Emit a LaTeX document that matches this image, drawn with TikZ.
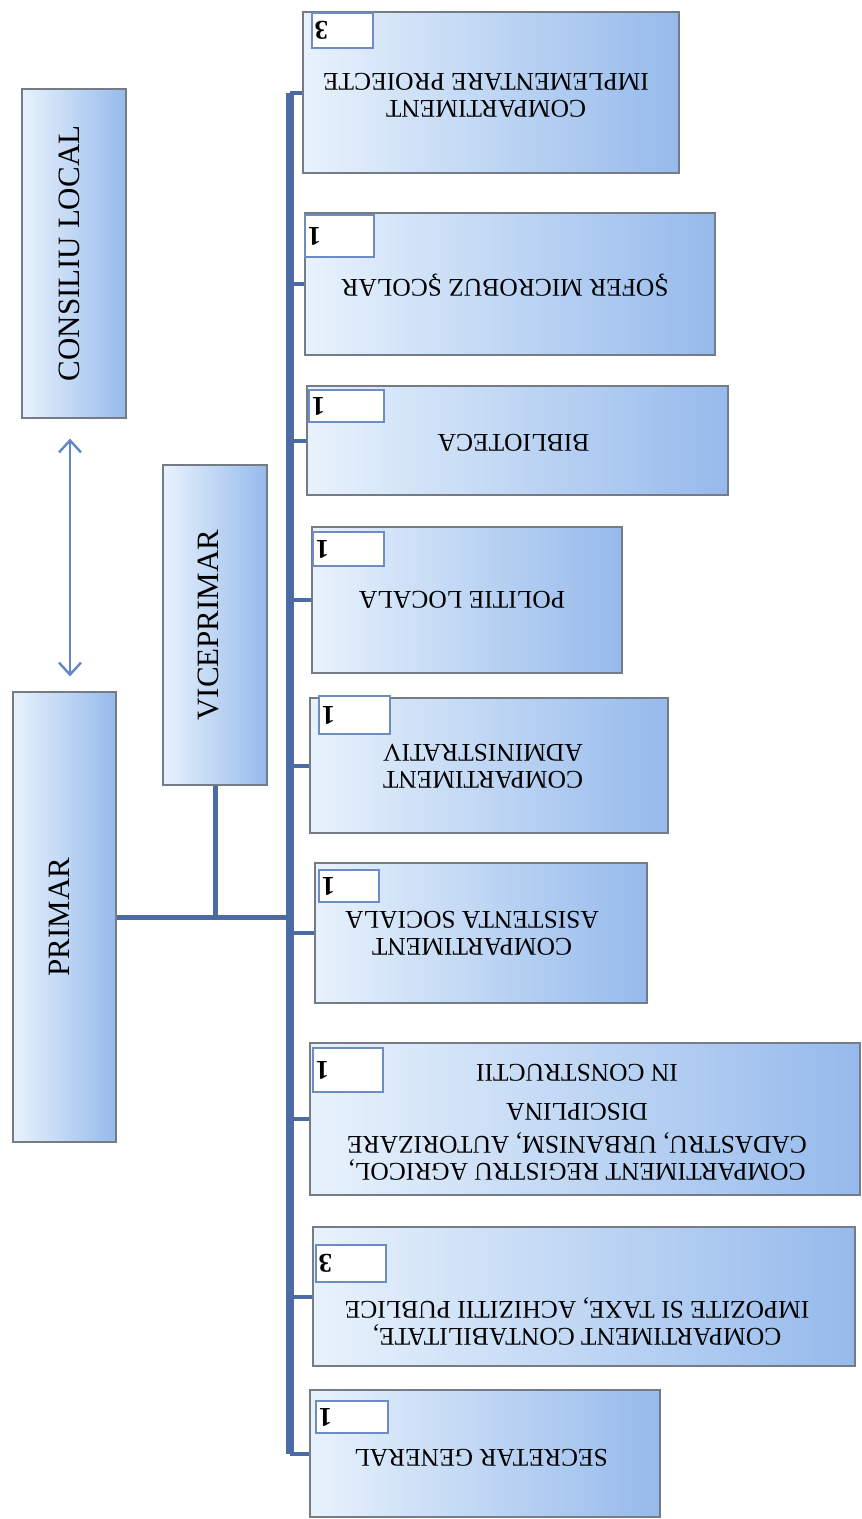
\documentclass[tikz,border=0pt]{standalone}
\usepackage{fontspec}
\setmainfont{Liberation Serif}
\usepackage{tikz}
\usetikzlibrary{arrows.meta,calc}

\definecolor{boxlight}{RGB}{232,242,252}
\definecolor{boxdark}{RGB}{150,186,236}
\definecolor{boxedge}{RGB}{118,124,134}
\definecolor{linkblue}{RGB}{76,106,164}
\definecolor{arrowblue}{RGB}{96,136,200}
\definecolor{countedge}{RGB}{110,140,196}

\begin{document}
\begin{tikzpicture}[x=1pt,y=-1pt,
    unitbox/.style={draw=boxedge,line width=1.2pt,left color=boxlight,right color=boxdark,inner sep=0pt},
    countbox/.style={draw=countedge,line width=1.2pt,fill=white,inner sep=0pt},
    sidetext/.style={rotate=90,inner sep=0pt,font=\fontsize{31}{33}\selectfont},
    unittext/.style={rotate=180,inner sep=0pt,align=center,font=\fontsize{25.5}{27}\selectfont},
    digit/.style={rotate=180,inner sep=0pt,font=\fontsize{27}{27}\selectfont\bfseries},
    link/.style={draw=linkblue,line width=5pt},
    branch/.style={draw=linkblue,line width=4pt},
    spineline/.style={draw=linkblue,line width=8pt},
    pair/.style={draw=arrowblue,line width=2.4pt,{Straight Barb[length=12pt,width=22pt]}-{Straight Barb[length=12pt,width=22pt]}}]

    \useasboundingbox (0,0) rectangle (862,1519);

    % Left column
    \node[unitbox,minimum width=104pt,minimum height=329pt] (consiliu) at (74,253.5) {};
    \node[sidetext] (consiliu-txt) at ($(consiliu.center)+(-5,0)$) {CONSILIU LOCAL};
    \node[unitbox,minimum width=103pt,minimum height=450pt] (primar) at (64.5,917) {};
    \node[sidetext] (primar-txt) at ($(primar.center)+(-5,0)$) {PRIMAR};
    \node[unitbox,minimum width=104pt,minimum height=320pt] (viceprimar) at (215,625) {};
    \node[sidetext] (viceprimar-txt) at ($(viceprimar.center)+(-7,0)$) {VICEPRIMAR};

    % Right column (upside down)
    \node[unitbox,minimum width=376pt,minimum height=161pt] (proiecte) at (491,92.5) {};
    \node[unittext] (proiecte-txt) at ($(proiecte.center)+(-5,2.5)$) {COMPARTIMENT\\IMPLEMENTARE PROIECTE};
    \node[unitbox,minimum width=410pt,minimum height=142pt] (sofer) at (510,284) {};
    \node[unittext] (sofer-txt) at ($(sofer.center)+(-5,1)$) {ŞOFER MICROBUZ ŞCOLAR};
    \node[unitbox,minimum width=421pt,minimum height=109pt] (biblioteca) at (517.5,440.5) {};
    \node[unittext] (biblioteca-txt) at ($(biblioteca.center)+(-4,2.5)$) {BIBLIOTECA};
    \node[unitbox,minimum width=310pt,minimum height=146pt] (politie) at (467,600) {};
    \node[unittext] (politie-txt) at ($(politie.center)+(-5,0)$) {POLITIE LOCALA};
    \node[unitbox,minimum width=358pt,minimum height=135pt] (administrativ) at (489,765.5) {};
    \node[unittext] (administrativ-txt) at ($(administrativ.center)+(-6,0.5)$) {COMPARTIMENT\\ADMINISTRATIV};
    \node[unitbox,minimum width=332pt,minimum height=140pt] (asistenta) at (481,933) {};
    \node[unittext] (asistenta-txt) at ($(asistenta.center)+(-9,0)$) {COMPARTIMENT\\ASISTENTA SOCIALA};
    \node[unitbox,minimum width=550pt,minimum height=152pt] (registru) at (585,1119) {};
    \node[unittext] (registru-txt) at ($(registru.center)+(-8,3.5)$) {COMPARTIMENT REGISTRU AGRICOL,\\CADASTRU, URBANISM, AUTORIZARE\\[6pt]DISCIPLINA\\[12pt]IN CONSTRUCTII};
    \node[unitbox,minimum width=542pt,minimum height=139pt] (contabilitate) at (584,1296.5) {};
    \node[unittext] (contabilitate-txt) at ($(contabilitate.center)+(-7,25)$) {COMPARTIMENT CONTABILITATE,\\IMPOZITE SI TAXE, ACHIZITII PUBLICE};
    \node[unitbox,minimum width=350pt,minimum height=127pt] (secretar) at (485,1453.5) {};
    \node[unittext] (secretar-txt) at ($(secretar.center)+(-4,4.5)$) {SECRETAR GENERAL};

    % Staff counts
    \foreach \name/\cx/\cy/\w/\h/\n in {proiecte/342.5/30.5/61/35/3,
        sofer/339.5/236/69/42/1, biblioteca/346.5/406/75/32/1,
        politie/348.5/549/71/34/1, administrativ/354.5/715/71/38/1,
        asistenta/349/886/60/32/1, registru/348/1070/70/44/1,
        contabilitate/351/1263.5/70/37/3, secretar/352/1417/72/32/1}{
        \node[countbox,minimum width=\w pt,minimum height=\h pt] (\name-nr) at (\cx,\cy) {};
        \node[digit] (\name-digit) at ($(\name-nr.west)+(10,0)$) {\n};
    }

    % Links
    \coordinate (spine) at (290,0);
    \draw[pair,shorten <=20pt,shorten >=15pt] ([xshift=-4pt]consiliu.south) -- ([xshift=5.5pt]primar.north);
    \draw[link] (primar.east) -- (primar.east -| spine);
    \draw[link] (viceprimar.south) -- (viceprimar.south |- primar.east);
    \draw[spineline] (proiecte.west -| spine) -- (secretar.west -| spine);
    \foreach \name in {proiecte,sofer,biblioteca,politie,administrativ,asistenta,registru,contabilitate,secretar}
        \draw[branch] (\name.west -| spine) -- (\name.west);
\end{tikzpicture}
\end{document}
